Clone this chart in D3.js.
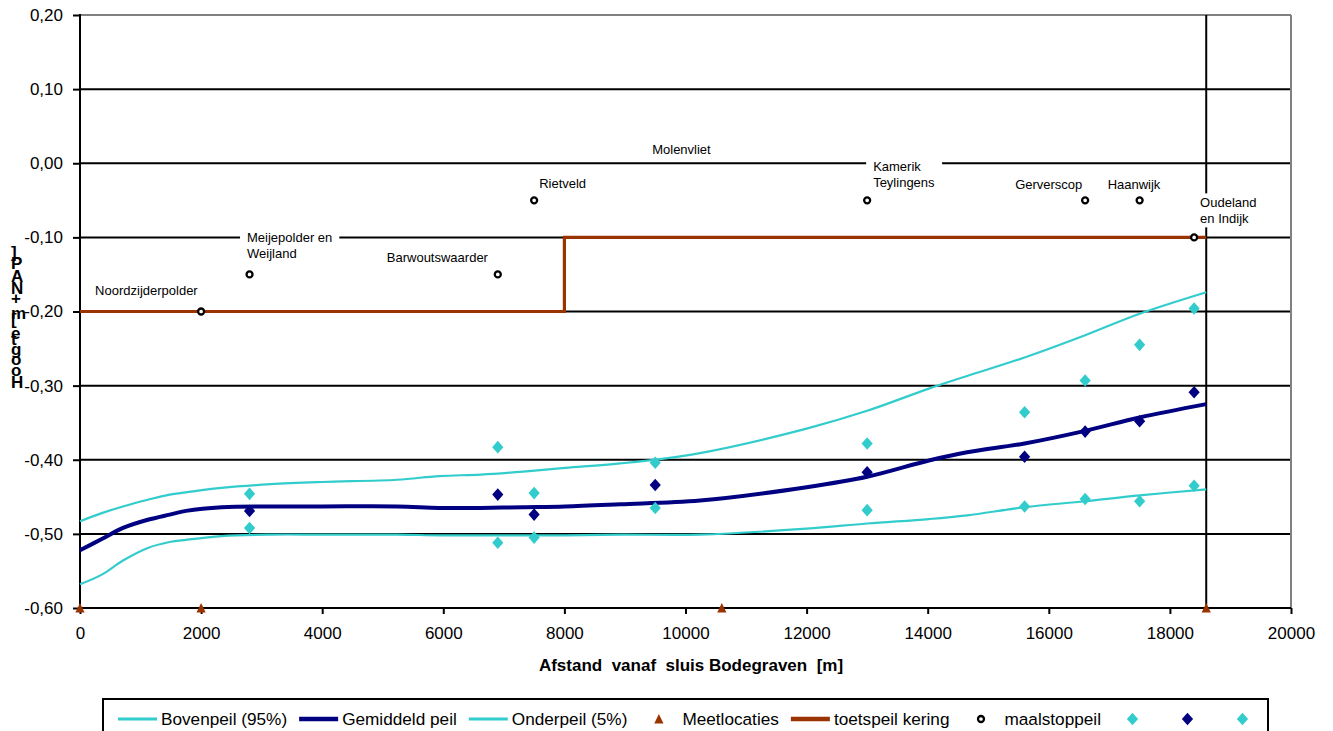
<!DOCTYPE html>
<html>
<head>
<meta charset="utf-8">
<script src="https://cdn.jsdelivr.net/npm/d3@7"></script>
<style>
  html, body { margin: 0; padding: 0; background: #fff; }
  svg { display: block; font-family: "Liberation Sans", Arial, sans-serif; }
</style>
</head>
<body>
<svg id="chart" width="1333" height="731"></svg>
<script>
// ---------------- DATA ----------------
// smoothed peil lines (afstand in m, peil in m+NAP)
const afstand   = [0, 360, 710, 1120, 1480, 1750, 2340, 3150, 4000, 5240, 5930, 6620, 7320, 8010, 8920, 10240, 12000, 13000, 14020, 14650, 15600, 16600, 17500, 18600];
const bovenpeil = [-0.483, -0.472, -0.463, -0.454, -0.447, -0.444, -0.438, -0.433, -0.430, -0.427, -0.422, -0.420, -0.416, -0.411, -0.405, -0.391, -0.358, -0.334, -0.304, -0.287, -0.262, -0.232, -0.203, -0.174];
const gemiddeld = [-0.522, -0.507, -0.492, -0.481, -0.474, -0.469, -0.464, -0.463, -0.463, -0.463, -0.465, -0.465, -0.464, -0.463, -0.460, -0.455, -0.437, -0.423, -0.401, -0.390, -0.378, -0.361, -0.343, -0.325];
const onderpeil = [-0.568, -0.555, -0.536, -0.519, -0.511, -0.508, -0.503, -0.501, -0.501, -0.501, -0.502, -0.502, -0.502, -0.502, -0.501, -0.501, -0.493, -0.486, -0.480, -0.475, -0.464, -0.456, -0.448, -0.440];

// measured points (diamonds)
const meetpuntAfstand = [2800, 6900, 7500, 9500, 13000, 15600, 16600, 17500, 18400];
const meetHoog = [-0.446, -0.383, -0.445, -0.404, -0.378, -0.336, -0.293, -0.245, -0.196];
const meetGem  = [-0.469, -0.447, -0.474, -0.434, -0.417, -0.396, -0.362, -0.348, -0.309];
const meetLaag = [-0.492, -0.512, -0.505, -0.465, -0.468, -0.463, -0.453, -0.456, -0.435];

// Meetlocaties (triangles on the axis)
const meetlocatieAfstand = [0, 2000, 10600, 18600];
const meetlocatiePeil    = [-0.60, -0.60, -0.60, -0.60];

// toetspeil kering (step line)
const toetsAfstand = [0, 8000, 8000, 18600];
const toetsPeil    = [-0.20, -0.20, -0.10, -0.10];

// maalstoppeil per gemaal
const gemaalNamen   = [["Noordzijderpolder"], ["Meijepolder en", "Weijland"], ["Barwoutswaarder"], ["Rietveld"], ["Kamerik", "Teylingens"], ["Gerverscop"], ["Haanwijk"], ["Oudeland", "en Indijk"]];
const gemaalAfstand = [2000, 2800, 6900, 7500, 13000, 16600, 17500, 18400];
const maalstoppeil  = [-0.20, -0.15, -0.15, -0.05, -0.05, -0.05, -0.05, -0.10];

// free label
const losLabel = "Molenvliet";
const losLabelAfstand = 9450;
const losLabelPeil = 0.013;

// axes
const yTicks = [0.20, 0.10, 0.00, -0.10, -0.20, -0.30, -0.40, -0.50, -0.60];
const xTicks = [0, 2000, 4000, 6000, 8000, 10000, 12000, 14000, 16000, 18000, 20000];
const verticaleLijn = 18600;
const xTitel = "Afstand  vanaf  sluis Bodegraven  [m]";
const yTitel = "Hoogte [m+NAP]";
const legendaNamen = ["Bovenpeil (95%)", "Gemiddeld peil", "Onderpeil (5%)", "Meetlocaties", "toetspeil kering", "maalstoppeil", "", "", ""];

// ---------------- LAYOUT / STYLE ----------------
const CYAN = "#33CCCC", NAVY = "#000080", BROWN = "#993300";
const labelOffsets = [[-106, -17], [-2.5, -32.5], [-111, -12.5], [5, -12], [6, -29], [-70, -11], [-32, -11], [6, -30]];

const svg = d3.select("#chart");
const x = d3.scaleLinear().domain([0, 20000]).range([80, 1291]);
const y = d3.scaleLinear().domain([-0.6, 0.2]).range([608, 15]);
const fmtY = v => (v < -1e-9 ? "-" : "") + Math.abs(v).toFixed(2).replace(".", ",");

// gridlines
svg.append("g").selectAll("line").data(yTicks.filter(v => v > -0.55 && v < 0.15)).join("line")
  .attr("x1", x(0)).attr("x2", x(20000)).attr("y1", d => y(d)).attr("y2", d => y(d))
  .attr("stroke", "#000").attr("stroke-width", 2);
// top & right border
svg.append("line").attr("x1", x(0)).attr("x2", x(20000)).attr("y1", y(0.2)).attr("y2", y(0.2)).attr("stroke", "#808080").attr("stroke-width", 2);
svg.append("line").attr("x1", x(20000)).attr("x2", x(20000)).attr("y1", y(0.2)).attr("y2", y(-0.6)).attr("stroke", "#808080").attr("stroke-width", 2);
// vertical line
svg.append("line").attr("x1", x(verticaleLijn)).attr("x2", x(verticaleLijn)).attr("y1", y(0.2)).attr("y2", y(-0.6)).attr("stroke", "#000").attr("stroke-width", 2);

// label background boxes + texts
const labelsG = svg.append("g").attr("font-size", 13).attr("fill", "#000");
function drawLabel(lines, px, py) {
  const g = labelsG.append("g");
  const rect = g.append("rect").attr("fill", "#fff");
  const t = g.append("text").attr("x", px).attr("y", py);
  lines.forEach((l, i) => t.append("tspan").attr("x", px).attr("y", py + i * 16).text(l));
  const bb = t.node().getBBox();
  rect.attr("x", bb.x - 7).attr("y", bb.y - 2).attr("width", bb.width + 14).attr("height", bb.height + 3);
}
gemaalNamen.forEach((n, i) => {
  drawLabel(n, x(gemaalAfstand[i]) + labelOffsets[i][0], y(maalstoppeil[i]) + labelOffsets[i][1]);
});
drawLabel([losLabel], x(losLabelAfstand), y(losLabelPeil));

// axes
const yAxis = svg.append("g").attr("transform", `translate(${x(0)},0)`)
  .call(d3.axisLeft(y).tickValues(yTicks).tickFormat(fmtY).tickSize(7).tickSizeOuter(0).tickPadding(10));
yAxis.select(".domain").remove();
yAxis.selectAll("line").attr("stroke", "#000").attr("stroke-width", 2);
yAxis.selectAll("text").attr("font-size", 17).attr("font-family", "Liberation Sans, Arial, sans-serif").attr("fill", "#000");

const xAxis = svg.append("g").attr("transform", `translate(0,${y(-0.6)})`)
  .call(d3.axisBottom(x).tickValues(xTicks).tickFormat(d3.format("d")).tickSize(6).tickSizeOuter(0).tickPadding(13));
xAxis.select(".domain").remove();
xAxis.selectAll("line").attr("stroke", "#000").attr("stroke-width", 2);
xAxis.selectAll("text").attr("font-size", 17).attr("font-family", "Liberation Sans, Arial, sans-serif").attr("fill", "#000");

svg.append("line").attr("x1", x(0)).attr("x2", x(0)).attr("y1", y(0.2) - 1).attr("y2", y(-0.6) + 1).attr("stroke", "#000").attr("stroke-width", 2);
svg.append("line").attr("x1", x(0)).attr("x2", x(20000)).attr("y1", y(-0.6)).attr("y2", y(-0.6)).attr("stroke", "#000").attr("stroke-width", 2);

// axis titles
svg.append("text").attr("x", 691).attr("y", 671).attr("text-anchor", "middle")
  .attr("font-size", 17).attr("font-weight", "bold").attr("xml:space", "preserve")
  .style("white-space", "pre").text(xTitel);
// y title: rotated line reading upwards, with each glyph turned upright
svg.append("text")
  .attr("transform", "translate(11,388) rotate(-90)")
  .attr("rotate", "90")
  .attr("font-size", 17).attr("font-weight", "bold").attr("fill", "#000")
  .attr("xml:space", "preserve").style("white-space", "pre")
  .text(yTitel);

// lines
const lineGen = d3.line().x(d => x(d[0])).y(d => y(d[1])).curve(d3.curveCatmullRom.alpha(0.5));
const series = [[bovenpeil, CYAN, 2.2], [onderpeil, CYAN, 2.2], [gemiddeld, NAVY, 4]];
series.forEach(([vals, col, w]) => {
  svg.append("path").datum(afstand.map((a, i) => [a, vals[i]]))
    .attr("d", lineGen).attr("fill", "none").attr("stroke", col).attr("stroke-width", w);
});
// toetspeil
svg.append("path").datum(toetsAfstand.map((a, i) => [a, toetsPeil[i]]))
  .attr("d", d3.line().x(d => x(d[0])).y(d => y(d[1])))
  .attr("fill", "none").attr("stroke", BROWN).attr("stroke-width", 3.2);

// diamonds
const diamond = (w, h) => `M0,${-h}L${w},0L0,${h}L${-w},0Z`;
[[meetHoog, CYAN], [meetLaag, CYAN], [meetGem, NAVY]].forEach(([vals, col]) => {
  svg.append("g").selectAll("path").data(meetpuntAfstand.map((a, i) => [a, vals[i]])).join("path")
    .attr("transform", d => `translate(${x(d[0])},${y(d[1])})`)
    .attr("d", diamond(5.6, 6.3)).attr("fill", col);
});

// meetlocaties triangles
const triangle = "M0,-5L4.6,4.6L-4.6,4.6Z";
svg.append("g").selectAll("path").data(meetlocatieAfstand.map((a, i) => [a, meetlocatiePeil[i]])).join("path")
  .attr("transform", d => `translate(${x(d[0])},${y(d[1])})`)
  .attr("d", triangle).attr("fill", BROWN);

// maalstoppeil circles
svg.append("g").selectAll("circle").data(gemaalAfstand.map((a, i) => [a, maalstoppeil[i]])).join("circle")
  .attr("cx", d => x(d[0])).attr("cy", d => y(d[1])).attr("r", 3)
  .attr("fill", "#fff").attr("stroke", "#000").attr("stroke-width", 2.3);

// legend
const leg = svg.append("g");
leg.append("rect").attr("x", 103).attr("y", 699).attr("width", 1165).attr("height", 50)
  .attr("fill", "#fff").attr("stroke", "#000").attr("stroke-width", 2);
const legendTypes = [["line", CYAN, 3], ["line", NAVY, 4.5], ["line", CYAN, 3], ["tri", BROWN], ["line", BROWN, 4.5], ["circ"], ["dia", CYAN], ["dia", NAVY], ["dia", CYAN]];
let lx = 118;
const ly = 719;
legendaNamen.forEach((name, i) => {
  const [type, col, w] = legendTypes[i];
  if (type === "line") {
    leg.append("line").attr("x1", lx).attr("x2", lx + 39).attr("y1", ly).attr("y2", ly).attr("stroke", col).attr("stroke-width", w);
  } else if (type === "tri") {
    leg.append("path").attr("transform", `translate(${lx + 19.5},${ly})`).attr("d", triangle).attr("fill", col);
  } else if (type === "circ") {
    leg.append("circle").attr("cx", lx + 19.5).attr("cy", ly).attr("r", 3).attr("fill", "#fff").attr("stroke", "#000").attr("stroke-width", 2.3);
  } else {
    leg.append("path").attr("transform", `translate(${lx + 19.5},${ly})`).attr("d", diamond(5.6, 6.3)).attr("fill", col);
  }
  let tw = 0;
  if (name) {
    const t = leg.append("text").attr("x", lx + 43).attr("y", ly + 6).attr("font-size", 17.2).attr("fill", "#000").text(name);
    tw = t.node().getComputedTextLength();
  }
  lx += 39 + 4 + tw + 12;
});
</script>
</body>
</html>
